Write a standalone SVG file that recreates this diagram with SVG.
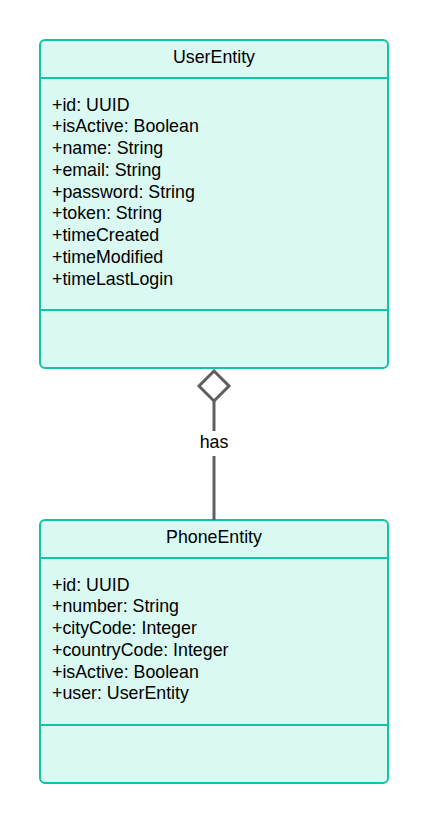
<svg xmlns="http://www.w3.org/2000/svg" width="429" height="824" viewBox="0 0 429 824">
<style>
.box{fill:#d9f9f2;stroke:#10c4a6;stroke-width:2}
.div{stroke:#10c4a6;stroke-width:2}
text{font-family:"Liberation Sans",Arial,sans-serif;font-size:17.8px;fill:#000}
.t{text-anchor:middle}
.c{stroke:#5e5e5e;stroke-width:3;fill:none}
</style>
<rect width="429" height="824" fill="#fff"/>
<g id="UserEntity">
<rect class="box" x="40" y="40" width="348" height="328" rx="5"/>
<line class="div" x1="40" y1="78" x2="388" y2="78"/>
<line class="div" x1="40" y1="310" x2="388" y2="310"/>
<text class="t" x="214" y="63">UserEntity</text>
<text x="52" y="110.5">+id: UUID</text>
<text x="52" y="132.25">+isActive: Boolean</text>
<text x="52" y="154">+name: String</text>
<text x="52" y="175.75">+email: String</text>
<text x="52" y="197.5">+password: String</text>
<text x="52" y="219.25">+token: String</text>
<text x="52" y="241">+timeCreated</text>
<text x="52" y="262.75">+timeModified</text>
<text x="52" y="284.5">+timeLastLogin</text>
</g>
<g id="PhoneEntity">
<rect class="box" x="40" y="520" width="348" height="263" rx="5"/>
<line class="div" x1="40" y1="558" x2="388" y2="558"/>
<line class="div" x1="40" y1="725" x2="388" y2="725"/>
<text class="t" x="214" y="543">PhoneEntity</text>
<text x="52" y="590.5">+id: UUID</text>
<text x="52" y="612.25">+number: String</text>
<text x="52" y="634">+cityCode: Integer</text>
<text x="52" y="655.75">+countryCode: Integer</text>
<text x="52" y="677.5">+isActive: Boolean</text>
<text x="52" y="699.25">+user: UserEntity</text>
</g>
<g id="connectors">
<path class="c" d="M214,371 L229,386 L214,401 L199,386 Z" fill="#fff"/>
<line class="c" x1="214" y1="401" x2="214" y2="431"/>
<line class="c" x1="214" y1="456" x2="214" y2="520"/>
<text class="t" x="214" y="447.5">has</text>
</g>
</svg>
